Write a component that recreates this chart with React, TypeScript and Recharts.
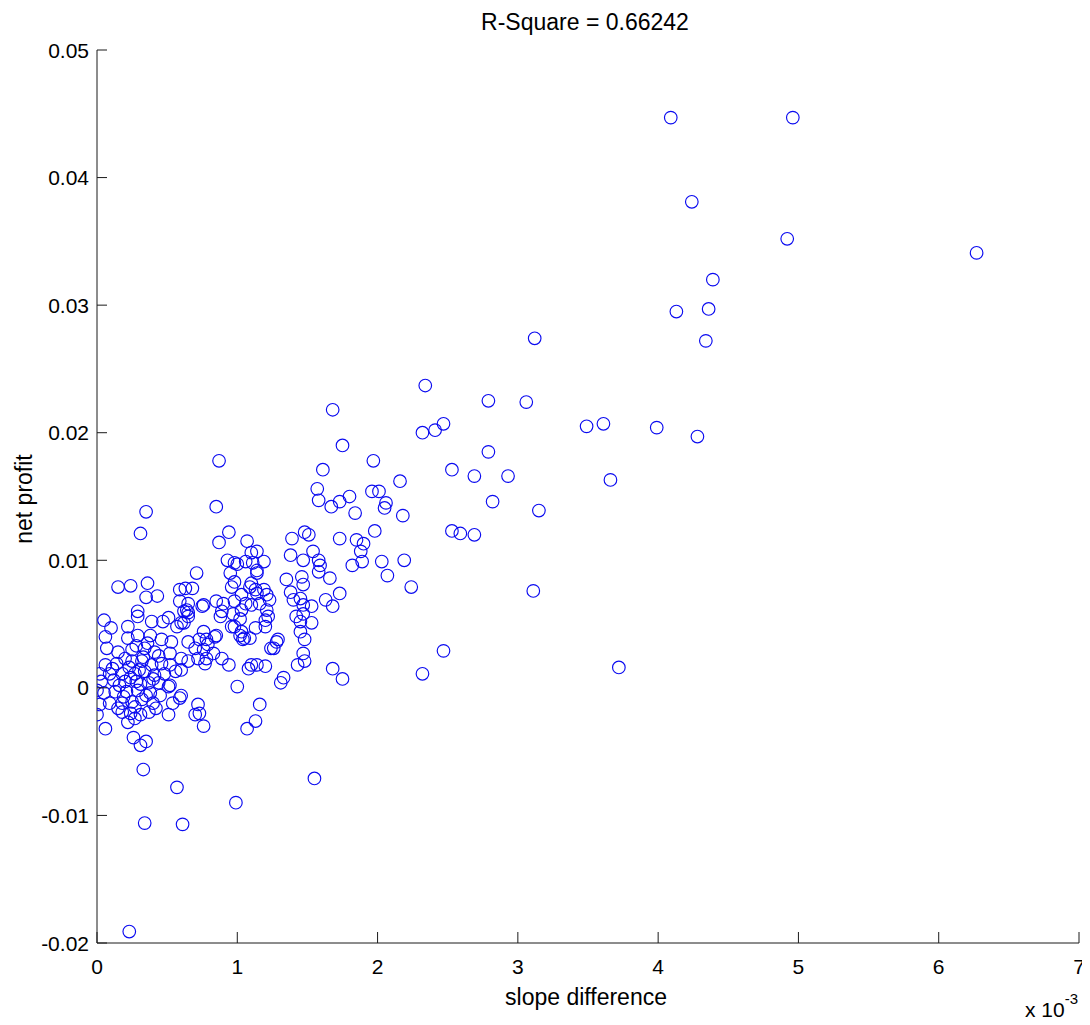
import React from 'react';
import { ScatterChart, Scatter, XAxis, YAxis, Customized } from 'recharts';

// slope difference values are in units of 1e-3 (axis shows "x 10^-3")
const upperX = [4.09,4.96,4.24,4.92,6.27,4.39,4.36,4.13,3.12,4.34, 2.34,2.79,3.06,1.68,3.49,3.61,3.99,4.28,2.47,2.41, 2.32,2.79,1.75,1.97,0.87,1.61,2.53,2.93,2.69,3.66, 2.16,1.57,1.96,2.01,1.80,1.58,1.73,2.82,2.06,2.05, 1.67,0.85,1.84,3.15,0.35,2.18,2.53,2.59,2.69,1.98, 0.31,0.94,3.11,2.19,2.24,3.72,2.47,2.32,1.55,0.99, 0.57,0.34,0.61,0.23,0.33,0.35,0.26,0.31,1.75,1.68];
const upperY = [0.0447,0.0447,0.0381,0.0352,0.0341,0.0320,0.0297,0.0295,0.0274,0.0272, 0.0237,0.0225,0.0224,0.0218,0.0205,0.0207,0.0204,0.0197,0.0207,0.0202, 0.0200,0.0185,0.0190,0.0178,0.0178,0.0171,0.0171,0.0166,0.0166,0.0163, 0.0162,0.0156,0.0154,0.0154,0.0150,0.0147,0.0146,0.0146,0.0145,0.0141, 0.0142,0.0142,0.0137,0.0139,0.0138,0.0135,0.0123,0.0121,0.0120,0.0123, 0.0121,0.0122,0.0076,0.0100,0.0079,0.0016,0.0029,0.0011,-0.0071,-0.0090, -0.0078,-0.0106,-0.0107,-0.0191,-0.0064,-0.0042,-0.0039,-0.0045,0.0007,0.0015];

const bandX = [0.87,1.07,0.93,1.00,1.06,1.10,0.95,0.71,0.15,0.24, 0.36,0.35,0.43,0.59,0.63,0.68,0.59,0.65,0.75,0.29, 0.96,1.03,1.09,0.85,0.90,0.98,1.06,0.64,0.89,1.03, 1.10,1.11,0.98,1.14,1.10,0.98,0.76,0.62,0.65,0.88, 0.97,1.14];
const bandY = [0.0114,0.0115,0.0100,0.0097,0.0099,0.0106,0.0090,0.0090,0.0079,0.0080, 0.0082,0.0071,0.0072,0.0077,0.0078,0.0078,0.0068,0.0066,0.0064,0.0060, 0.0079,0.0073,0.0079,0.0068,0.0066,0.0068,0.0066,0.0061,0.0060,0.0061, 0.0065,0.0098,0.0098,0.0090,0.0082,0.0083,0.0065,0.0060,0.0059,0.0056, 0.0058,0.0074];

const midX = [1.48,1.51,1.39,1.73,1.85,1.90,1.88,1.38,1.47,1.54, 1.58,1.59,1.58,1.66,1.82,1.89,2.03,2.07,1.35,1.46, 1.47,1.38,1.45,1.47,1.40,1.63,1.73,1.68,1.53,1.19, 1.14,1.14,1.19,1.13,1.23,1.16,1.21,1.42,1.47,1.21];
const midY = [0.0122,0.0120,0.0117,0.0117,0.0116,0.0113,0.0107,0.0104,0.0100,0.0107, 0.0100,0.0096,0.0091,0.0086,0.0096,0.0099,0.0099,0.0088,0.0085,0.0087, 0.0081,0.0075,0.0070,0.0065,0.0069,0.0069,0.0074,0.0064,0.0064,0.0099, 0.0092,0.0107,0.0077,0.0077,0.0069,0.0066,0.0061,0.0056,0.0058,0.0073];

const clusterX = [0.05,0.10,0.22,0.29,0.39,0.47,0.51,0.60,0.65,0.76, 0.96,1.05,1.02,0.06,0.22,0.29,0.38,0.46,0.53,0.65, 0.73,0.79,0.84,0.70,0.76,0.07,0.15,0.25,0.34,0.41, 0.52,0.60,0.65,0.72,0.78,0.77,0.94,0.89,1.08,1.10, 0.52,0.46,0.39,0.32,0.25,0.20,0.14,0.06,0.02,0.09, 0.18,0.27,0.34,0.41,0.48,0.56,0.60,1.00,0.03,0.12, 0.20,0.28,0.37,0.44,0.52,0.05,0.13,0.21,0.29,0.38, 0.45,0.60,0.59,0.00,0.02,0.09,0.18,0.25,0.32,0.40, 0.42,0.18,0.24,0.31,0.37,0.51,0.27,0.00,0.06,0.22, 0.72,0.73,0.70,0.76,1.07,0.51,0.54];
const clusterY = [0.0053,0.0047,0.0048,0.0056,0.0052,0.0052,0.0055,0.0051,0.0056,0.0044, 0.0048,0.0039,0.0041,0.0040,0.0039,0.0041,0.0041,0.0038,0.0036,0.0036, 0.0038,0.0034,0.0040,0.0031,0.0030,0.0031,0.0028,0.0030,0.0031,0.0028, 0.0027,0.0023,0.0021,0.0023,0.0023,0.0019,0.0018,0.0023,0.0015,0.0018, 0.0018,0.0019,0.0018,0.0021,0.0021,0.0023,0.0019,0.0018,0.0011,0.0011, 0.0011,0.0011,0.0013,0.0010,0.0011,0.0013,0.0014,0.0001,0.0005,0.0006, 0.0005,0.0005,0.0004,0.0004,0.0002,-0.0004,-0.0003,-0.0003,-0.0002,-0.0004, -0.0006,-0.0006,-0.0008,-0.0002,-0.0013,-0.0012,-0.0012,-0.0011,-0.0009,-0.0012, -0.0016,-0.0019,-0.0020,-0.0021,-0.0019,-0.0021,-0.0024,-0.0021,-0.0032,-0.0027, -0.0013,-0.0020,-0.0021,-0.0030,-0.0032,0.0001,-0.0012];

const lowX = [1.13,1.20,1.20,1.22,1.09,1.45,1.53,1.45,1.48,1.29, 1.26,1.47,1.48,1.43,1.20,1.14,1.33,1.31,1.16,1.13, 1.02,0.98,1.03,1.04,0.85,0.78,0.83,0.57,1.28,1.24, 0.62];
const lowY = [0.0047,0.0053,0.0048,0.0056,0.0039,0.0052,0.0051,0.0044,0.0038,0.0038, 0.0031,0.0027,0.0021,0.0018,0.0017,0.0018,0.0008,0.0004,-0.0013,-0.0026, 0.0054,0.0048,0.0044,0.0038,0.0041,0.0038,0.0027,0.0048,0.0036,0.0031, 0.0051];

const coreX = [0.16,0.24,0.30,0.35,0.27,0.19,0.33,0.23,0.11,0.40,0.31,0.15,0.36,0.28,0.44];
const coreY = [0.0002,0.0008,0.0014,-0.0006,-0.0015,-0.0007,0.0024,0.0016,0.0015,0.0007,0.0003,-0.0016,0.0035,0.0033,0.0025];

const xTicks = [0, 1, 2, 3, 4, 5, 6, 7];
const yTicks = [-0.02, -0.01, 0, 0.01, 0.02, 0.03, 0.04, 0.05];

const titleText = 'R-Square = 0.66242';
const xLabel = 'slope difference';
const yLabel = 'net profit';

const groupsX = [upperX, bandX, midX, clusterX, lowX, coreX];
const groupsY = [upperY, bandY, midY, clusterY, lowY, coreY];
const data: { x: number; y: number }[] = [];
groupsX.forEach((gx, gi) => gx.forEach((x, i) => data.push({ x, y: groupsY[gi][i] })));

const FONT = '"Liberation Sans", Arial, Helvetica, sans-serif';
const AXIS = '#1a1a1a';
const MARK = '#0a0af0';

const YTick = (p: any) => {
  const v = p.payload.value;
  const label = v === 0 ? '0' : String(v);
  return (
    <g>
      <line x1={p.x + 8} x2={p.x + 18} y1={p.y} y2={p.y} stroke={AXIS} strokeWidth={1} />
      <text x={p.x} y={p.y} dy="0.36em" textAnchor="end" fontSize={21} fontFamily={FONT} fill="#000">
        {label}
      </text>
    </g>
  );
};

const XTick = (p: any) => {
  const v = p.payload.value;
  return (
    <g>
      <line x1={p.x} x2={p.x} y1={p.y - 8} y2={p.y - 19} stroke={AXIS} strokeWidth={1} />
      <text x={p.x} y={p.y + 23} textAnchor="middle" fontSize={21} fontFamily={FONT} fill="#000">
        {String(v)}
      </text>
    </g>
  );
};

const Circle = (p: any) => (
  <circle cx={p.cx} cy={p.cy} r={6.3} fill="none" stroke={MARK} strokeWidth={1.15} />
);

const Texts = () => (
  <g fontFamily={FONT} fill="#000">
    <text x={577} y={22} textAnchor="middle" fontSize={23}>{titleText}</text>
    <text x={578} y={997} textAnchor="middle" fontSize={23}>{xLabel}</text>
    <text x={24} y={491} textAnchor="middle" fontSize={23} transform="rotate(-90 24 491)">{yLabel}</text>
    <text x={1017} y={1009} fontSize={21}>
      x 10
      <tspan fontSize={15} dy={-13}>-3</tspan>
    </text>
  </g>
);

export default function App() {
  return (
    <ScatterChart width={1082} height={1015} margin={{ top: 42, right: 11, bottom: 0, left: 0 }}>
      <XAxis
        type="number"
        dataKey="x"
        domain={[0, 7]}
        ticks={xTicks}
        interval={0}
        allowDataOverflow
        height={80}
        tickSize={0}
        tickMargin={8}
        tickLine={false}
        axisLine={{ stroke: AXIS, strokeWidth: 1 }}
        tick={XTick}
      />
      <YAxis
        type="number"
        dataKey="y"
        domain={[-0.02, 0.05]}
        ticks={yTicks}
        interval={0}
        allowDataOverflow
        width={89}
        tickSize={0}
        tickMargin={8}
        tickLine={false}
        axisLine={{ stroke: AXIS, strokeWidth: 1 }}
        tick={YTick}
      />
      <Scatter data={data} shape={Circle} isAnimationActive={false} />
      <Customized component={Texts} />
    </ScatterChart>
  );
}
